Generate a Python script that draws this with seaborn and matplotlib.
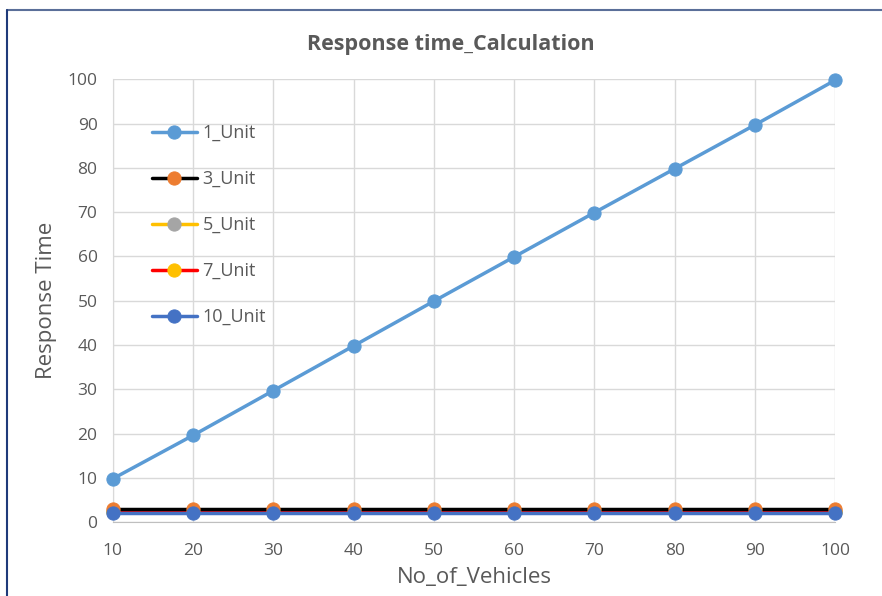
import matplotlib
matplotlib.use("Agg")
import matplotlib.pyplot as plt
import seaborn as sns
import pandas as pd
from matplotlib.lines import Line2D

# Data
vehicles = [10, 20, 30, 40, 50, 60, 70, 80, 90, 100]
unit_1 = [9.8, 19.6, 29.7, 39.8, 49.9, 59.9, 69.9, 79.8, 89.7, 99.8]
unit_3 = [2.9, 2.9, 2.9, 2.9, 2.9, 2.9, 2.9, 2.9, 2.9, 2.9]
unit_5 = [2.5, 2.5, 2.5, 2.5, 2.5, 2.5, 2.5, 2.5, 2.5, 2.5]
unit_7 = [2.3, 2.3, 2.3, 2.3, 2.3, 2.3, 2.3, 2.3, 2.3, 2.3]
unit_10 = [2.1, 2.1, 2.1, 2.1, 2.1, 2.1, 2.1, 2.1, 2.1, 2.1]

series_names = ["1_Unit", "3_Unit", "5_Unit", "7_Unit", "10_Unit"]
line_colors = ["#5B9BD5", "#000000", "#FFC000", "#FF0000", "#4472C4"]
marker_colors = ["#5B9BD5", "#ED7D31", "#A5A5A5", "#FFC000", "#4472C4"]

df = pd.DataFrame({"vehicles": vehicles, "1_Unit": unit_1, "3_Unit": unit_3,
                   "5_Unit": unit_5, "7_Unit": unit_7, "10_Unit": unit_10})
long_df = df.melt(id_vars="vehicles", var_name="series", value_name="time")

sns.set_style("white")
plt.rcParams["font.family"] = ["Open Sans", "DejaVu Sans"]

fig = plt.figure(figsize=(8.82, 5.96), dpi=100)
ax = fig.add_axes([0.128, 0.124, 0.819, 0.743])

# draw each series (last ones on top so 1_Unit / 3_Unit / 10_Unit are visible)
order = [2, 3, 1, 4, 0]
for i in order:
    name = series_names[i]
    sub = long_df[long_df["series"] == name]
    sns.lineplot(data=sub, x="vehicles", y="time", ax=ax, color=line_colors[i],
                 linewidth=2.5, marker="o", markersize=9.5,
                 markerfacecolor=marker_colors[i], markeredgecolor=marker_colors[i],
                 label=name, zorder=3, clip_on=False)

ax.set_xlim(10, 100)
ax.set_ylim(0, 100)
ax.set_xticks(vehicles)
ax.set_yticks(range(0, 101, 10))
ax.grid(True, color="#D9D9D9", linewidth=1)
for s in ["top", "right"]:
    ax.spines[s].set_visible(False)
ax.spines["left"].set_color("#D9D9D9")
ax.spines["bottom"].set_color("#BFBFBF")
ax.tick_params(axis="x", length=0, labelsize=12.5, labelcolor="#595959", pad=15)
ax.tick_params(axis="y", length=0, labelsize=12.5, labelcolor="#595959", pad=11)
ax.set_xlabel("No_of_Vehicles", fontsize=16, color="#595959", labelpad=6)
ax.set_ylabel("Response Time", fontsize=16, color="#595959", labelpad=8)
fig.text(0.511, 0.925, "Response time_Calculation", fontsize=15.5, fontweight="bold",
         color="#595959", ha="center", va="center")

# legend in original order
handles, labels = ax.get_legend_handles_labels()
hmap = dict(zip(labels, handles))
leg = ax.legend([hmap[n] for n in series_names], series_names, loc="upper left",
                bbox_to_anchor=(0.044, 0.915), frameon=False, fontsize=13,
                labelspacing=1.55, handlelength=2.5, handletextpad=0.3,
                labelcolor="#595959", borderaxespad=0)

# chart border (cropped screenshot: top and left edge visible)
fig.add_artist(Line2D([0.008, 1.0], [0.984, 0.984], color="#5A6F99", linewidth=1.5))
fig.add_artist(Line2D([0.008, 0.008], [0.0, 0.984], color="#1F3A7A", linewidth=1.5))

fig.savefig("out.png", dpi=100)
